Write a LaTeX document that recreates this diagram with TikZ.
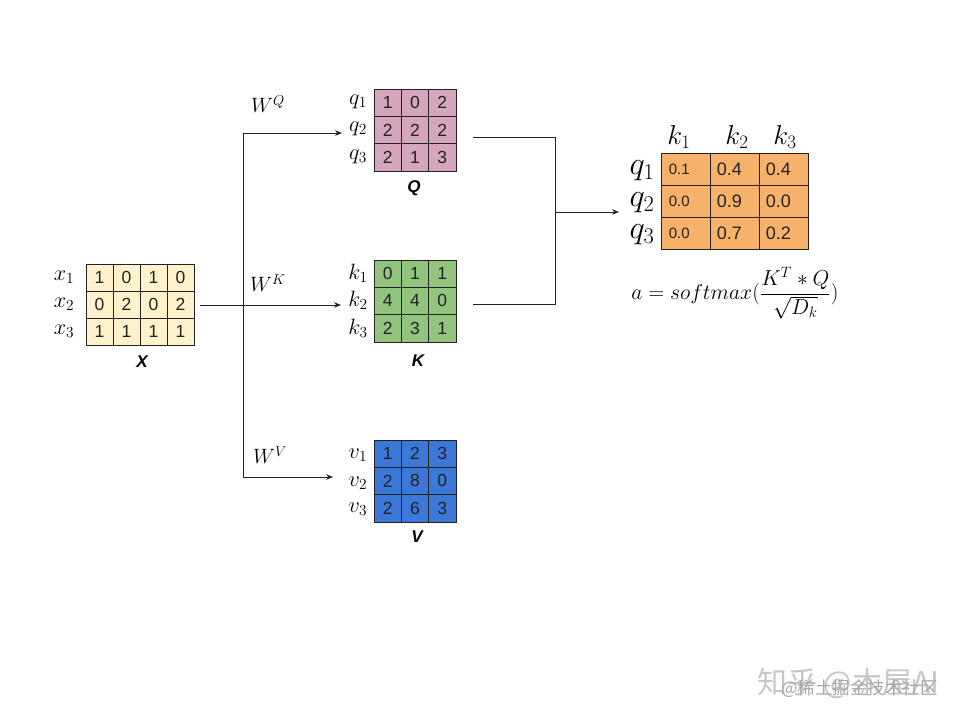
\documentclass[tikz,border=0pt]{standalone}
\usepackage{fontspec}
\newfontfamily\arial{Liberation Sans}
\newfontfamily\cjk{Noto Sans CJK SC}
\usetikzlibrary{arrows.meta,fit}
\definecolor{xcol}{HTML}{FFF2CC}
\definecolor{qcol}{HTML}{D5A6BD}
\definecolor{kcol}{HTML}{93C47D}
\definecolor{vcol}{HTML}{3C78D8}
\definecolor{acol}{HTML}{F6B26B}
\definecolor{ink}{HTML}{222222}
\tikzset{
  cell/.style={draw=ink, line width=0.8pt, inner sep=0pt, text=ink,
    font=\arial\fontsize{17.5}{18}\selectfont},
  rcell/.style={draw=ink, line width=0.8pt, inner sep=0pt, fill=acol,
    minimum width=49pt, minimum height=32pt},
  rtxt/.style={anchor=west, inner sep=0pt, text=ink, font=\arial\fontsize{18}{18}\selectfont},
  rtxtsmall/.style={anchor=west, inner sep=0pt, text=ink, font=\arial\fontsize{15}{15}\selectfont},
  lab/.style={inner sep=0pt, font=\fontsize{20}{20}\selectfont},
  biglab/.style={inner sep=0pt, font=\fontsize{24}{24}\selectfont},
  title/.style={inner sep=0pt, font=\arial\bfseries\itshape\fontsize{17}{17}\selectfont},
  conn/.style={line width=0.8pt, draw=ink},
  arr/.style={conn, -{Stealth[length=7pt,width=5.5pt]}},
  wm/.style={inner sep=0pt, text=black!22},
}
\newcommand\drawmat[7]{%
  \foreach \vals [count=\r] in {#7} {
    \foreach \v [count=\c] in \vals {
      \node[cell, fill=#6, minimum width=#4pt, minimum height=#5pt]
        (#1-\r-\c) at ({#2+(\c-0.5)*#4},{#3+(\r-0.5)*#5}) {\v};
    }
  }
}
\newcommand\lbl[1]{\scalebox{1.07}{$#1$}}
\newcommand\rlbl[1]{\scalebox{1.3}{$#1$}}
\begin{document}
\begin{tikzpicture}[x=1pt,y=-1pt]
\useasboundingbox[fill=white] (0,0) rectangle (960,720);

% X matrix
\drawmat{X}{86}{264}{27}{27}{xcol}{{1,0,1,0},{0,2,0,2},{1,1,1,1}}
\node[fit=(X-1-1)(X-3-4), inner sep=0pt] (X) {};
\node[lab] (x1) at (64,277) {\lbl{x_1}};
\node[lab] (x2) at (64,304) {\lbl{x_2}};
\node[lab] (x3) at (64,331) {\lbl{x_3}};
\node[title] (Xt) at (142,362) {X};

% Q matrix
\drawmat{Q}{374}{89}{27.3}{27.3}{qcol}{{1,0,2},{2,2,2},{2,1,3}}
\node[fit=(Q-1-1)(Q-3-3), inner sep=0pt] (Q) {};
\node[lab] (q1) at (358,102) {\lbl{q_1}};
\node[lab] (q2) at (358,129) {\lbl{q_2}};
\node[lab] (q3) at (358,157) {\lbl{q_3}};
\node[title] (Qt) at (414,188) {Q};

% K matrix
\drawmat{K}{374}{260}{27.3}{27.3}{kcol}{{0,1,1},{4,4,0},{2,3,1}}
\node[fit=(K-1-1)(K-3-3), inner sep=0pt] (K) {};
\node[lab] (k1) at (358,273) {\lbl{k_1}};
\node[lab] (k2) at (358,300) {\lbl{k_2}};
\node[lab] (k3) at (358,328) {\lbl{k_3}};
\node[title] (Kt) at (418,361) {K};

% V matrix
\drawmat{V}{374}{440}{27.3}{27.3}{vcol}{{1,2,3},{2,8,0},{2,6,3}}
\node[fit=(V-1-1)(V-3-3), inner sep=0pt] (V) {};
\node[lab] (v1) at (358,455) {\lbl{v_1}};
\node[lab] (v2) at (358,483) {\lbl{v_2}};
\node[lab] (v3) at (358,509) {\lbl{v_3}};
\node[title] (Vt) at (417,537) {V};

% W labels
\node[lab] (WQ) at (268,104) {$W^Q$};
\node[lab] (WK) at (268,283) {$W^K$};
\node[lab] (WV) at (270,455) {$W^V$};

% attention matrix
\foreach \vals [count=\r] in {{0.1,0.4,0.4},{0.0,0.9,0.0},{0.0,0.7,0.2}} {
  \foreach \v [count=\c] in \vals {
    \node[rcell] (A-\r-\c) at ({661+(\c-0.5)*49},{153+(\r-0.5)*32}) {};
    \ifnum\c=1
      \node[rtxtsmall] (At-\r-\c) at ([xshift=8pt]A-\r-\c.west) {\v};
    \else
      \node[rtxt] (At-\r-\c) at ([xshift=7pt]A-\r-\c.west) {\v};
    \fi
  }
}
\node[fit=(A-1-1)(A-3-3), inner sep=0pt] (A) {};
\node[biglab] (hk1) at (679,137) {\scalebox{1.1}{$k_1$}};
\node[biglab] (hk2) at (737,137) {\scalebox{1.1}{$k_2$}};
\node[biglab] (hk3) at (785,137) {\scalebox{1.1}{$k_3$}};
\node[biglab] (rq1) at (642,171) {\rlbl{q_1}};
\node[biglab] (rq2) at (642,203) {\rlbl{q_2}};
\node[biglab] (rq3) at (642,235) {\rlbl{q_3}};

% formula
\node[inner sep=0pt, font=\fontsize{17}{17}\selectfont] (F) at (735,293)
  {\scalebox{1.25}{$\displaystyle a = softmax(\frac{K^T * Q}{\sqrt{D_k}})$}};

% connectors
\coordinate (xo) at (200,305);
\coordinate (kin) at (341,305);
\coordinate (jQ) at (243,133);
\coordinate (qin) at (342,133);
\coordinate (jV) at (243,477);
\coordinate (vin) at (333,477);
\coordinate (qo) at (473,137);
\coordinate (ko) at (473,304);
\coordinate (rT) at (555,137);
\coordinate (rB) at (555,304);
\coordinate (rM) at (555,212);
\coordinate (ain) at (619,212);

\draw[arr] (xo) -- (kin);
\draw[conn] (jQ) -- (jV);
\draw[arr] (jQ) -- (qin);
\draw[arr] (jV) -- (vin);
\draw[conn] (qo) -- (rT) -- (rB) -- (ko);
\draw[arr] (rM) -- (ain);

% watermark
\node[wm, font=\cjk\fontsize{30}{30}\selectfont, anchor=west] (wm1) at (757,683) {知乎 @木屋AI};
\node[wm, font=\cjk\fontsize{17.5}{17.5}\selectfont, anchor=west, text=black!35] (wm2) at (781,689) {@稀土掘金技术社区};
\end{tikzpicture}
\end{document}
